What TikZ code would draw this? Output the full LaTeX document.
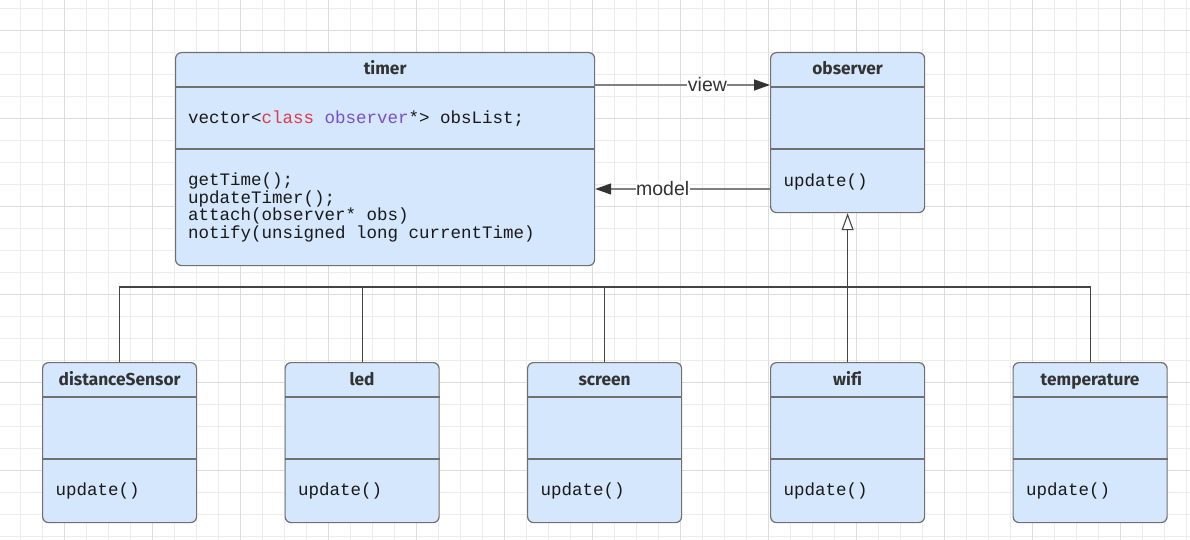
\documentclass[tikz,border=0pt]{standalone}
\usepackage{fontspec}
\setmainfont{Liberation Sans}
\newfontfamily\hdfont{Fira Sans}[Ligatures=NoCommon]
\newfontfamily\monofont{Liberation Mono}
\usetikzlibrary{arrows.meta}
\definecolor{boxfill}{RGB}{213,231,252}
\definecolor{boxline}{RGB}{112,112,112}
\definecolor{busline}{RGB}{68,68,68}
\definecolor{assocline}{RGB}{128,128,128}
\definecolor{tipcolor}{RGB}{51,51,51}
\definecolor{hdtext}{RGB}{51,51,51}
\definecolor{lbltext}{RGB}{51,51,51}
\definecolor{gridminor}{RGB}{236,236,236}
\definecolor{gridmajor}{RGB}{220,220,220}
\definecolor{kwred}{RGB}{224,58,72}
\definecolor{kwpurple}{RGB}{120,80,200}
\begin{document}
\begin{tikzpicture}[x=1pt,y=-1pt,
  umlbox/.style={draw=boxline, line width=1.2pt, fill=boxfill, rounded corners=6pt, inner sep=0pt, anchor=north west, minimum width=154pt, minimum height=160pt},
  divider/.style={draw=boxline, line width=1.2pt},
  hd/.style={font=\hdfont\bfseries\fontsize{17.3}{20}\selectfont, text=hdtext, inner sep=0pt, anchor=base},
  code/.style={font=\monofont\fontsize{17.5}{17.7}\selectfont, text=black!90, inner sep=0pt, anchor=west, align=left},
  assoc/.style={draw=assocline, line width=1.4pt},
  bus/.style={draw=busline, line width=1.1pt},
  lbl/.style={font=\fontsize{19.5}{22}\selectfont, text=lbltext, fill=white, inner sep=0.5pt}
]
\useasboundingbox (0,0) rectangle (1190,540);
\fill[white] (0,0) rectangle (1190,540);
% grid
\foreach \gx in {20.3,42.3,...,1190} {\draw[gridminor, line width=0.8pt] (\gx,0) -- (\gx,540);}
\foreach \gy in {8.3,30.3,...,540} {\draw[gridminor, line width=0.8pt] (0,\gy) -- (1190,\gy);}
\foreach \gx in {64.3,152.3,...,1190} {\draw[gridmajor, line width=0.8pt] (\gx,0) -- (\gx,540);}
\foreach \gy in {30.3,118.3,...,540} {\draw[gridmajor, line width=0.8pt] (0,\gy) -- (1190,\gy);}

% timer
\node[umlbox, minimum width=419pt, minimum height=213pt] (timer) at (175,52) {};
\draw[divider] ([yshift=-35pt]timer.north west) -- ([yshift=-35pt]timer.north east);
\draw[divider] ([yshift=-97pt]timer.north west) -- ([yshift=-97pt]timer.north east);
\node[hd] (timerT) at ([yshift=-23pt]timer.north) {timer};
\node[code] (timerA) at ([xshift=13pt,yshift=-66.5pt]timer.north west) {vector<\textcolor{kwred}{class} \textcolor{kwpurple}{observer}*> obsList;};
\node[code] (timerM) at ([xshift=13pt,yshift=-155.5pt]timer.north west) {getTime();\\updateTimer();\\attach(observer* obs)\\notify(unsigned long currentTime)};

% observer
\node[umlbox] (obs) at (770,52) {};
\draw[divider] ([yshift=-35pt]obs.north west) -- ([yshift=-35pt]obs.north east);
\draw[divider] ([yshift=-97pt]obs.north west) -- ([yshift=-97pt]obs.north east);
\node[hd] (obsT) at ([yshift=-23pt]obs.north) {observer};
\node[code] (obsM) at ([xshift=13.5pt,yshift=-129.5pt]obs.north west) {update()};

% subclasses
\foreach \nm/\lx/\tt in {ds/42/distanceSensor, led/284.5/led, scr/527/screen, wifi/770/wifi, temp/1012.5/temperature} {
  \node[umlbox] (\nm) at (\lx,362) {};
  \draw[divider] ([yshift=-35pt]\nm.north west) -- ([yshift=-35pt]\nm.north east);
  \draw[divider] ([yshift=-97pt]\nm.north west) -- ([yshift=-97pt]\nm.north east);
  \node[hd] (\nm T) at ([yshift=-23pt]\nm.north) {\tt};
  \node[code] (\nm M) at ([xshift=13.5pt,yshift=-129pt]\nm.north west) {update()};
}

% associations
\draw[assoc, -{Triangle[length=16pt,width=11pt,color=tipcolor]}] ([yshift=-33pt]timer.north east) -- ([yshift=-33pt]obs.north west) node[lbl, pos=0.642] (viewL) {view};
\draw[assoc, -{Triangle[length=16pt,width=11pt,color=tipcolor]}] ([yshift=-137pt]obs.north west) -- ([yshift=-137pt]timer.north east) node[lbl, pos=0.614] (modelL) {model};

% inheritance bus
\coordinate (busY) at (0,287);
\draw[bus] (ds.north) -- (ds.north |- busY) -- (temp.north |- busY) -- (temp.north);
\draw[bus] (led.north) -- (led.north |- busY);
\draw[bus] (scr.north) -- (scr.north |- busY);
\draw[bus, -{Triangle[open, fill=white, length=17pt, width=12pt]}] (wifi.north) -- (obs.south);
\end{tikzpicture}
\end{document}
